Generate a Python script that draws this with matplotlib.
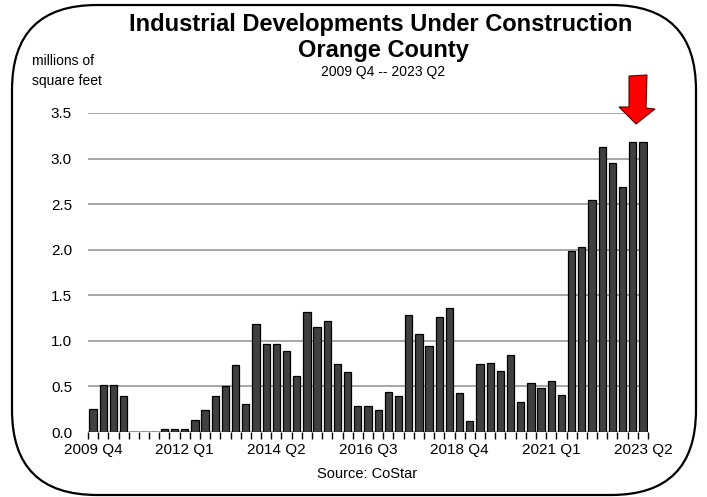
import matplotlib
matplotlib.use("Agg")
import matplotlib.pyplot as plt
from matplotlib.patches import FancyBboxPatch, Polygon
import numpy as np

# Quarterly square footage under construction, millions of sq ft (2009 Q4 .. 2023 Q2)
quarters = [f"{y} Q{q}" for y in range(2009, 2024) for q in range(1, 5)]
quarters = quarters[quarters.index("2009 Q4"):quarters.index("2023 Q2") + 1]
values = [
    0.25, 0.52, 0.52, 0.39, 0.0, 0.0, 0.0, 0.03, 0.03, 0.03,
    0.13, 0.24, 0.40, 0.50, 0.74, 0.31, 1.18, 0.97, 0.97, 0.89,
    0.61, 1.32, 1.15, 1.22, 0.75, 0.66, 0.28, 0.28, 0.24, 0.44,
    0.40, 1.28, 1.08, 0.94, 1.26, 1.36, 0.43, 0.12, 0.75, 0.76,
    0.67, 0.85, 0.33, 0.54, 0.48, 0.56, 0.41, 1.99, 2.03, 2.55,
    3.13, 2.95, 2.69, 3.18, 3.18,
]
label_quarters = ["2009 Q4", "2012 Q1", "2014 Q2", "2016 Q3", "2018 Q4", "2021 Q1", "2023 Q2"]
y_ticks = [0.0, 0.5, 1.0, 1.5, 2.0, 2.5, 3.0, 3.5]

plt.rcParams["font.family"] = ["Liberation Sans", "DejaVu Sans"]

W, H = 707, 497
fig = plt.figure(figsize=(W / 100, H / 100), dpi=100)
fig.patch.set_facecolor("white")

ax = fig.add_axes([88 / W, 1 - 432 / H, (648 - 88) / W, (432 - 113) / H])
x = np.arange(len(quarters))
ax.bar(x, values, width=0.72, color="#404040", edgecolor="black", linewidth=0.9, zorder=3)

ax.set_xlim(-0.5, len(quarters) - 0.5)
ax.set_ylim(0, 3.5)

# grid lines
for yv in y_ticks:
    ax.axhline(yv, color="#a6a6a6", linewidth=1.4, zorder=1)

for s in ax.spines.values():
    s.set_visible(False)

ax.set_yticks(y_ticks)
ax.set_yticklabels([f"{v:.1f}" for v in y_ticks], fontsize=11)
ax.tick_params(axis="y", length=0, pad=11.5)

ax.set_xticks([quarters.index(q) for q in label_quarters])
ax.set_xticklabels(label_quarters, fontsize=11)
ax.set_xticks(np.arange(-0.5, len(quarters)), minor=True)
ax.tick_params(axis="x", which="major", length=0, pad=8)
ax.tick_params(axis="x", which="minor", length=5, width=1.0, color="black")

# titles and notes
fig.text(381 / W, 1 - 24 / H, "Industrial Developments Under Construction",
         ha="center", va="center", fontsize=17, fontweight="bold")
fig.text(383 / W, 1 - 50 / H, "Orange County",
         ha="center", va="center", fontsize=17, fontweight="bold")
fig.text(383 / W, 1 - 72 / H, "2009 Q4 -- 2023 Q2",
         ha="center", va="center", fontsize=10)
fig.text(32 / W, 1 - 61 / H, "millions of", ha="left", va="center", fontsize=10)
fig.text(32 / W, 1 - 81 / H, "square feet", ha="left", va="center", fontsize=10)
fig.text(367 / W, 1 - 474 / H, "Source: CoStar", ha="center", va="center", fontsize=10.5)

# rounded outer frame (inches)
frame = FancyBboxPatch((12 / 100, 2 / 100), (696 - 12) / 100, (495 - 5) / 100,
                       boxstyle="round,pad=0,rounding_size=0.85",
                       transform=fig.dpi_scale_trans, fill=False,
                       edgecolor="black", linewidth=1.6)
fig.patches.append(frame)

# red arrow pointing at latest quarter
pts_px = [(629, 76), (647, 75), (646, 108), (655, 109), (636, 124), (619, 107), (629, 107)]
arrow = Polygon([(px / 100, (H - py) / 100) for px, py in pts_px], closed=True,
                transform=fig.dpi_scale_trans, facecolor="#ff0000",
                edgecolor="#600000", linewidth=0.8)
fig.patches.append(arrow)

fig.savefig("out.png", dpi=100)
